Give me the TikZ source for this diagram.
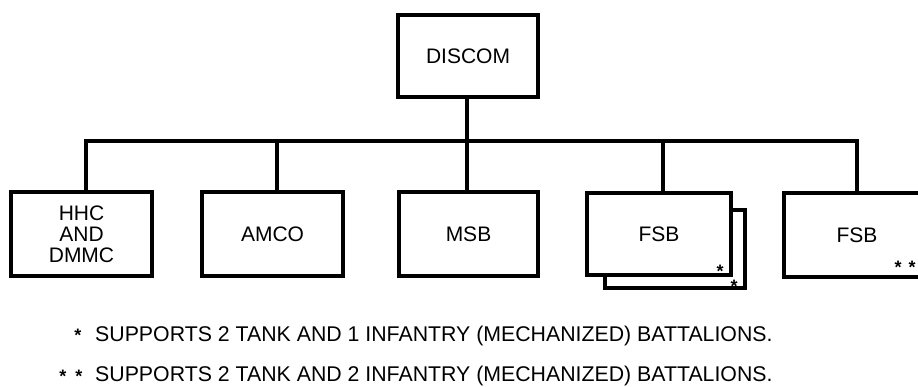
\documentclass[tikz,border=0pt]{standalone}
\usepackage{fontspec}
\setmainfont{Liberation Sans}
\begin{document}
\begin{tikzpicture}[x=1pt,y=-1pt,
  box/.style={draw, line width=4pt, fill=white, minimum width=141pt, minimum height=84pt,
    inner sep=0pt, align=center, font={\fontsize{21}{21}\selectfont}},
  conn/.style={line width=3.6pt, line join=miter},
  note/.style={inner sep=0pt, font={\fontsize{21.3}{24}\selectfont}},
  starmark/.style={inner sep=0pt, font={\bfseries\fontsize{18}{18}\selectfont}}]
\useasboundingbox (0,0) rectangle (918,386);
% top
\node[box, minimum width=140pt, minimum height=82pt] (discom) at (468,56) {DISCOM};
% bottom row
\node[box] (hhc) at (81.5,234) {HHC\\AND\\DMMC};
\node[box] (amco) at (272.5,234) {AMCO};
\node[box, minimum width=139pt] (msb) at (468.5,234) {MSB};
\node[box, minimum width=140pt, minimum height=78pt] (fsbshadow) at (675,249) {};
\node[box, minimum width=144pt, minimum height=82pt] (fsba) at (659,234) {FSB};
\node[box, minimum width=146pt] (fsbb) at (857,235) {FSB};
% connector points on the bus
\coordinate (b1) at (86,141);
\coordinate (b2) at (277,141);
\coordinate (b3) at (467,141);
\coordinate (b4) at (663,141);
\coordinate (b5) at (857,141);
\draw[conn] (b1 |- hhc.north) -- (b1) -- (b5) -- (b5 |- fsbb.north);
\draw[conn] (b3 |- discom.south) -- (b3);
\draw[conn] (b2) -- (b2 |- amco.north);
\draw[conn] (b3) -- (b3 |- msb.north);
\draw[conn] (b4) -- (b4 |- fsba.north);
% stars in boxes
\node[starmark] (s1) at (720,271) {*};
\node[starmark] (s2) at (734,286) {*};
\node[starmark] (s3) at (898,267) {*};
\node[starmark] (s4) at (912,267) {*};
% footnotes
\node[starmark] (f1) at (78,335) {*};
\node[note, anchor=base west] (n1) at (95,341) {SUPPORTS 2 TANK AND 1 INFANTRY (MECHANIZED) BATTALIONS.};
\node[starmark] (f2) at (63,376) {*};
\node[starmark] (f3) at (79,376) {*};
\node[note, anchor=base west] (n2) at (95,381) {SUPPORTS 2 TANK AND 2 INFANTRY (MECHANIZED) BATTALIONS.};
\end{tikzpicture}
\end{document}
